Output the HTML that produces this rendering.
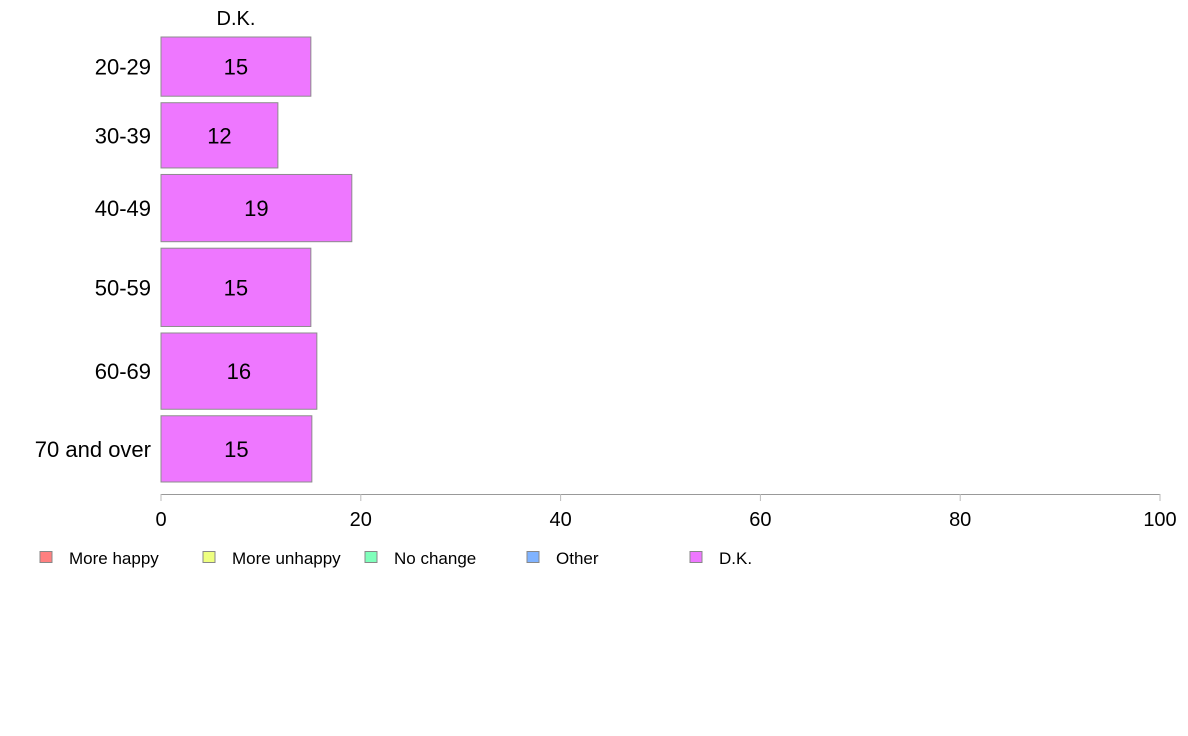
<!DOCTYPE html>
<html><head><meta charset="utf-8"><style>
body{margin:0;background:#fff;}
svg{display:block;font-family:"Liberation Sans",Arial,sans-serif;}
</style></head><body>
<svg id="chart" width="1188" height="736"></svg>
<script>
const categories=["20-29","30-39","40-49","50-59","60-69","70 and over"];
const dkValues=[15,11.7,19.1,15,15.6,15.1];
const printedValues=["15","12","19","15","16","15"];
const rowWeights=[59,65,67,78,76,66];
const ticks=[0,20,40,60,80,100];
const legendLabels=["More happy","More unhappy","No change","Other","D.K."];
const legendColors=["#ff8080","#eeff80","#80ffbb","#80b3ff","#ee77ff"];

const NS="http://www.w3.org/2000/svg";
const svg=document.getElementById("chart");
const x0=161,x1=1160,yTop=37,yBot=482,gap=6.5;
const xs=v=>x0+(v/100)*(x1-x0);
function mk(t,a,p){const e=document.createElementNS(NS,t);for(const k in a)e.setAttribute(k,a[k]);(p||svg).appendChild(e);return e;}

const t=mk("text",{x:236,y:25,"text-anchor":"middle","font-size":20,fill:"#000"});
t.textContent="D.K.";



const totalW=rowWeights.reduce((a,b)=>a+b,0);
const avail=yBot-yTop-gap*(categories.length-1);
let y=yTop;
categories.forEach((c,i)=>{
  const h=avail*rowWeights[i]/totalW;
  const r=mk("rect",{x:x0,y:y,width:xs(dkValues[i])-x0,height:h,fill:"#ee77ff",stroke:"#8c8c8c","stroke-width":1});
  
  
  const v=mk("text",{x:(x0+xs(dkValues[i]))/2,y:y+h/2+8,"text-anchor":"middle","font-size":22,fill:"#000"});
  v.textContent=printedValues[i];
  
  
  const l=mk("text",{x:151,y:y+h/2+8,"text-anchor":"end","font-size":22,fill:"#000"});
  l.textContent=c;
  
  
  y+=h+gap;
});

const ax=mk("line",{x1:x0,x2:x1,y1:494.5,y2:494.5,stroke:"#999","stroke-width":1});


ticks.forEach(tv=>{
  const tl=mk("line",{x1:xs(tv),x2:xs(tv),y1:494,y2:501,stroke:"#bbb","stroke-width":1});
  
  
  const tt=mk("text",{x:xs(tv),y:526,"text-anchor":"middle","font-size":20,fill:"#000"});
  tt.textContent=tv;
  
  
});

const lx=[40,203,365,527,690];
legendLabels.forEach((lab,i)=>{
  const g=mk("g",{});
  
  
  mk("rect",{x:lx[i],y:551.5,width:12,height:11,fill:legendColors[i],stroke:"#888","stroke-width":1},g);
  const tx=mk("text",{x:lx[i]+29,y:564,"font-size":17,fill:"#000"},g);
  tx.textContent=lab;
});
</script>
</body></html>
